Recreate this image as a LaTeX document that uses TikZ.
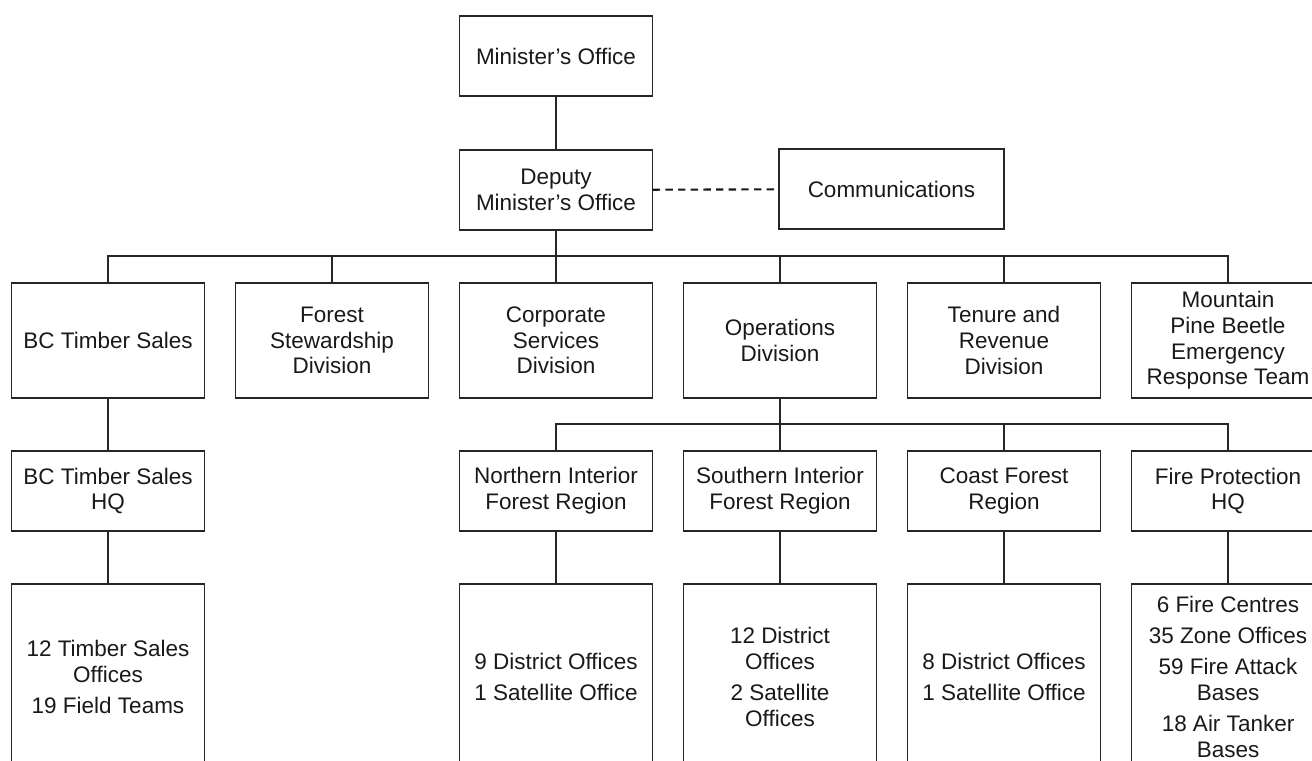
\documentclass[tikz,border=0pt]{standalone}
\usepackage{fontspec}
\setmainfont{Liberation Sans}
\begin{document}
\begin{tikzpicture}[
  unit/.style={draw=black!85, line width=0.6pt, text=black!90, align=center,
    inner sep=1pt, minimum width=3.85cm, minimum height=1.6cm,
    font=\fontsize{12.8}{14.6}\selectfont},
  division/.style={unit, minimum height=2.3cm},
  offices/.style={unit, minimum height=3.72cm},
  link/.style={draw=black!85, line width=0.6pt}
]
  \useasboundingbox (0, 0) rectangle (26.24, 15.2);

  \node[unit] (mo) at (11.12, 14.08) {Minister's Office};
  \node[unit] (dmo) at (11.12, 11.4) {Deputy\\Minister's Office};
  \node[unit, minimum width=4.5cm] (comm) at (17.83, 11.42) {Communications};

  \node[division] (bcts) at (2.16, 8.39) {BC Timber Sales};
  \node[division] (fsd) at (6.64, 8.39) {Forest\\Stewardship\\Division};
  \node[division] (csd) at (11.12, 8.39) {Corporate\\Services\\Division};
  \node[division] (ops) at (15.60, 8.39) {Operations\\Division};
  \node[division] (trd) at (20.08, 8.39) {Tenure and\\Revenue\\Division};
  \node[division] (mpb) at (24.56, 8.39) {Mountain\\Pine Beetle\\Emergency\\Response Team};

  \node[unit] (bchq) at (2.16, 5.38) {BC Timber Sales\\HQ};
  \node[unit] (nifr) at (11.12, 5.38) {Northern Interior\\Forest Region};
  \node[unit] (sifr) at (15.60, 5.38) {Southern Interior\\Forest Region};
  \node[unit] (cfr) at (20.08, 5.38) {Coast Forest\\Region};
  \node[unit] (fphq) at (24.56, 5.38) {Fire Protection\\HQ};

  \node[offices] (bcoff) at (2.16, 1.66) {12 Timber Sales\\Offices\\[3pt]19 Field Teams};
  \node[offices] (nioff) at (11.12, 1.66) {9 District Offices\\[3pt]1 Satellite Office};
  \node[offices] (sioff) at (15.60, 1.66) {12 District\\Offices\\[3pt]2 Satellite\\Offices};
  \node[offices] (cfoff) at (20.08, 1.66) {8 District Offices\\[3pt]1 Satellite Office};
  \node[offices] (fpoff) at (24.56, 1.66) {6 Fire Centres\\[3pt]35 Zone Offices\\[3pt]59 Fire Attack\\Bases\\[3pt]18 Air Tanker\\Bases};

  % reporting lines
  \coordinate (jdiv) at (11.12, 10.08);
  \coordinate (jreg) at (15.60, 6.72);
  \draw[link] (mo) -- (dmo);
  \draw[link] (dmo) -- (jdiv);
  \foreach \n in {bcts, fsd, csd, ops, trd, mpb}
    \draw[link] (jdiv) -| (\n.north);
  \draw[link] (ops) -- (jreg);
  \foreach \n in {nifr, sifr, cfr, fphq}
    \draw[link] (jreg) -| (\n.north);
  \draw[link] (bcts) -- (bchq);
  \draw[link] (bchq) -- (bcoff);
  \draw[link] (nifr) -- (nioff);
  \draw[link] (sifr) -- (sioff);
  \draw[link] (cfr) -- (cfoff);
  \draw[link] (fphq) -- (fpoff);

  \draw[link, draw=black!90, line width=1.2pt, dash pattern=on 4.2pt off 3pt] (dmo) -- (comm);
\end{tikzpicture}
\end{document}
